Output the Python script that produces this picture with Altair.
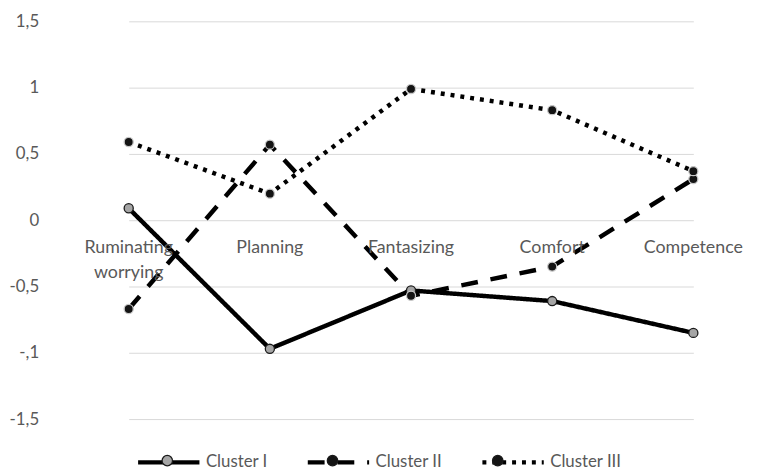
import altair as alt
import pandas as pd

categories = ["Ruminating\nworrying", "Planning", "Fantasizing", "Comfort", "Competence"]
clusters = ["Cluster I", "Cluster II", "Cluster III"]
cluster_1 = [0.09, -0.97, -0.53, -0.61, -0.85]
cluster_2 = [-0.67, 0.57, -0.57, -0.35, 0.31]
cluster_3 = [0.59, 0.20, 0.99, 0.83, 0.37]
y_tick_values = [-1.5, -1, -0.5, 0, 0.5, 1, 1.5]
y_tick_labels = ["-1,5", "-,1", "-0,5", "0", "0,5", "1", "1,5"]

rows = []
for name, vals in zip(clusters, [cluster_1, cluster_2, cluster_3]):
    for i, (c, v) in enumerate(zip(categories, vals)):
        rows.append({"category": c, "cluster": name, "value": v, "order": i})
df = pd.DataFrame(rows)
cat_df = pd.DataFrame({"category": categories, "zero": [0.0] * len(categories)})

TEXT = "#595959"
FONT = "Lato"

label_expr = "".join(
    f"datum.value == {v} ? '{l}' : " for v, l in zip(y_tick_values, y_tick_labels)
) + "''"

x_scale = alt.Scale(type="point", range=[71, 641.7], padding=0)
y_scale = alt.Scale(domain=[-1.5, 1.5], nice=False, zero=False)
y_axis = alt.Axis(values=y_tick_values, labelExpr=label_expr, title=None,
                  domain=False, ticks=False, tickSize=0, grid=True,
                  gridColor="#d9d9d9", gridWidth=1, labelFont=FONT,
                  labelFontSize=17, labelColor=TEXT, labelPadding=20)

def xenc():
    return alt.X("category:N", sort=categories, scale=x_scale, axis=None)

def yenc(field):
    return alt.Y(f"{field}:Q", scale=y_scale, axis=y_axis)

LEG_X, LEG_Y = 78, 412
common_leg = dict(orient="none", legendX=LEG_X, legendY=LEG_Y, direction="horizontal",
                  title=None, symbolSize=3844, labelFont=FONT, labelFontSize=17,
                  labelColor=TEXT, padding=0, symbolOffset=0)

lines = alt.Chart(df).mark_line(color="black", strokeWidth=4.5, strokeJoin="round").encode(
    x=xenc(), y=yenc("value"),
    strokeDash=alt.StrokeDash(
        "cluster:N",
        scale=alt.Scale(range=[[1, 0], [17, 13], [4, 6]]),
        legend=alt.Legend(symbolType="stroke", symbolStrokeWidth=4.5,
                          symbolStrokeColor="black", labelOffset=4,
                          columnPadding=30.5, **common_leg),
    ),
    order="order:Q",
)

r = 0.17
e = 1.1
circle_path = (f"M-{e},0M{e},0M-{r},0A{r},{r},0,1,1,{r},0A{r},{r},0,1,1,-{r},0Z")

points = alt.Chart(df).transform_calculate(cl="datum.cluster").mark_point(
    filled=True, size=85, strokeWidth=1.3, opacity=1
).encode(
    x=xenc(), y=yenc("value"),
    fill=alt.Fill(
        "cl:N",
        scale=alt.Scale(range=["#a5a5a5", "#141414", "#141414"]),
        legend=alt.Legend(symbolType=circle_path, symbolStrokeColor="#1a1a1a",
                          symbolStrokeWidth=1.3, labelExpr="''", labelOffset=0,
                          columnPadding=93, **common_leg),
    ),
    stroke=alt.condition("datum.cl == 'Cluster I'", alt.value("#1a1a1a"), alt.value("#c8c8c8")),
    order="order:Q",
)

labels = alt.Chart(cat_df).mark_text(
    font=FONT, fontSize=18, color=TEXT, baseline="top", dy=19,
    lineBreak="\n", lineHeight=25, align="center"
).encode(x=xenc(), y=yenc("zero"), text="category:N")

chart = alt.layer(lines, points, labels).properties(
    width=702, height=402,
    autosize=alt.AutoSizeParams(type="none"),
    padding={"left": 51, "top": 11, "right": 0, "bottom": 50},
    background="white",
).configure_view(stroke=None)

chart.save("out.html", embed_options={"renderer": "svg", "actions": False})
